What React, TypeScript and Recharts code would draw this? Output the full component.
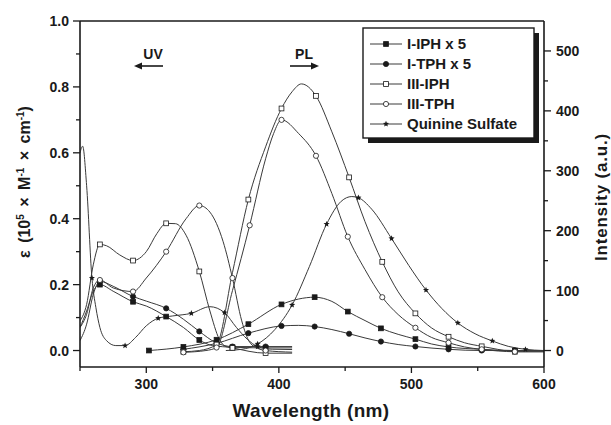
import React from "react";
import { LineChart, Line, XAxis, YAxis, ReferenceLine } from "recharts";

type Pt = [number, number];

// wavelength axis (nm)
const wavelengthTicks = [250, 300, 350, 400, 450, 500, 550, 600];
const wavelengthMajor = [300, 400, 500, 600];
// left axis: epsilon (10^5 M^-1 cm^-1)
const epsTicks = [0, 0.1, 0.2, 0.3, 0.4, 0.5, 0.6, 0.7, 0.8, 0.9, 1.0];
const epsMajor = [0, 0.2, 0.4, 0.6, 0.8, 1.0];
// right axis: PL intensity (a.u.)
const intensityTicks = [0, 50, 100, 150, 200, 250, 300, 350, 400, 450, 500];
const intensityMajor = [0, 100, 200, 300, 400, 500];

// absorption spectra (left axis)
const iIphAbs: Pt[] = [[250, 0.07], [255, 0.12], [260, 0.18], [265, 0.2], [275, 0.18], [290, 0.148], [300, 0.135], [315, 0.103], [328, 0.07], [340, 0.032], [350, 0.015], [365, 0.01], [390, 0.008], [410, 0.008]];
const iTphAbs: Pt[] = [[250, 0.03], [255, 0.08], [260, 0.17], [265, 0.21], [275, 0.195], [290, 0.164], [300, 0.15], [315, 0.128], [328, 0.095], [340, 0.058], [352, 0.025], [365, 0.012], [390, 0.012], [410, 0.012]];
const iiiIphAbs: Pt[] = [[250, 0.09], [255, 0.14], [260, 0.26], [265, 0.322], [270, 0.318], [280, 0.29], [290, 0.273], [300, 0.3], [308, 0.355], [315, 0.386], [322, 0.385], [330, 0.35], [340, 0.24], [348, 0.12], [355, 0.035], [360, 0.012], [365, 0.008], [390, -0.008], [410, -0.008]];
const iiiTphAbs: Pt[] = [[250, 0.07], [255, 0.11], [260, 0.19], [265, 0.214], [275, 0.19], [290, 0.179], [300, 0.22], [315, 0.3], [330, 0.4], [340, 0.44], [348, 0.42], [358, 0.33], [365, 0.22], [372, 0.09], [378, 0.025], [385, 0.005], [390, 0], [410, -0.005]];
const quinineAbs: Pt[] = [[250, 0.6], [252, 0.62], [255, 0.5], [259, 0.22], [262, 0.13], [265, 0.07], [270, 0.03], [277, 0.015], [284, 0.015], [292, 0.04], [300, 0.075], [309, 0.098], [320, 0.105], [334, 0.113], [348, 0.133], [359, 0.115], [368, 0.07], [376, 0.035], [384, 0.012], [395, 0.004], [410, 0.003]];

// photoluminescence spectra (right axis)
const iIphPl: Pt[] = [[302, 0], [328, 6], [353, 18], [377, 44], [402, 77], [415, 86], [427, 89], [440, 82], [452, 65], [465, 50], [477, 37], [490, 27], [503, 19], [515, 11], [528, 6], [553, 2], [578, 0], [600, 0]];
const iTphPl: Pt[] = [[328, 2], [353, 12], [377, 29], [402, 41], [415, 42], [427, 40], [440, 35], [453, 28], [465, 21], [477, 15], [490, 10], [503, 6.7], [528, 2], [553, 0], [578, 0], [600, 0]];
const iiiIphPl: Pt[] = [[328, -2], [340, 0], [353, 10], [365, 130], [377, 252], [390, 340], [402, 404], [410, 432], [417, 445], [428, 425], [440, 365], [453, 289], [465, 215], [478, 148], [490, 98], [503, 62], [515, 38], [528, 23], [540, 13], [553, 7], [565, 2], [578, -2], [600, -2]];
const iiiTphPl: Pt[] = [[328, -3], [345, 0], [353, 5], [365, 100], [378, 209], [390, 320], [396, 362], [402, 385], [415, 362], [428, 325], [440, 262], [452, 190], [465, 135], [478, 89], [490, 60], [503, 38], [515, 22], [528, 13], [540, 6], [553, 2], [578, -2], [600, -2]];
const quininePl: Pt[] = [[360, 0], [372, 2], [384, 11], [397, 35], [410, 76], [423, 140], [436, 211], [447, 249], [455, 257], [460, 255], [470, 236], [485, 187], [498, 142], [511, 101], [523, 70], [535, 46], [548, 28], [561, 16], [573, 7], [586, 2], [600, 0]];

// where the symbols sit on each curve
const absMarks = [265, 290, 315, 340, 365, 390];
const quinineAbsMarks = [259, 284, 309, 334, 359, 384];
const iIphPlMarks = [302, 328, 353, 377, 402, 427, 452, 477, 503, 528, 553, 578];
const iTphPlMarks = [328, 353, 377, 402, 427, 453, 477, 503, 528, 553, 578];
const iiiIphPlMarks = [328, 353, 377, 402, 428, 453, 478, 503, 528, 553, 578];
const iiiTphPlMarks = [328, 353, 378, 402, 428, 452, 478, 503, 528, 553, 578];
const quininePlMarks = [384, 410, 436, 460, 485, 511, 535, 561, 586];

const seriesNames = ["I-IPH x 5", "I-TPH x 5", "III-IPH", "III-TPH", "Quinine Sulfate"];
const seriesShapes = ["sq", "ci", "sqo", "cio", "star"];

const LINE = "#3a3a3a";
const INK = "#1a1a1a";
const FONT = "'Liberation Sans', Arial, sans-serif";

const toRows = (pts: Pt[], marks: number[]) =>
  pts.map(([x, y]) => ({ x, y, m: marks.includes(x) }));

function Marker({ shape, x, y }: { shape: string; x: number; y: number }) {
  if (shape === "sq" || shape === "sqo") {
    return (
      <rect x={x - 2.4} y={y - 2.4} width={4.8} height={4.8}
        fill={shape === "sq" ? INK : "#fff"} stroke={INK} strokeWidth={0.8} />
    );
  }
  if (shape === "ci" || shape === "cio") {
    return <circle cx={x} cy={y} r={2.6} fill={shape === "ci" ? INK : "#fff"} stroke={INK} strokeWidth={0.8} />;
  }
  const pts: string[] = [];
  for (let i = 0; i < 10; i++) {
    const r = i % 2 === 0 ? 3.2 : 1.4;
    const a = -Math.PI / 2 + (i * Math.PI) / 5;
    pts.push(`${x + r * Math.cos(a)},${y + r * Math.sin(a)}`);
  }
  return <polygon points={pts.join(" ")} fill={INK} />;
}

const dotFor = (shape: string) => (props: any) => {
  const { cx, cy, payload, index } = props;
  if (!payload?.m || cx == null || cy == null) return <g key={`n${index}`} />;
  return (
    <g key={`d${index}`}>
      <Marker shape={shape} x={cx} y={cy} />
    </g>
  );
};

const isIn = (list: number[], v: number) => list.some((m) => Math.abs(m - v) < 1e-6);

const LeftTick = (props: any) => {
  const { x, y, payload } = props;
  const major = isIn(epsMajor, payload.value);
  return (
    <g>
      <line x1={x} x2={x - (major ? 7 : 4)} y1={y} y2={y} stroke={INK} strokeWidth={1.3} />
      {major && (
        <text x={x - 11} y={y + 5} textAnchor="end" fontFamily={FONT} fontWeight="bold" fontSize={14} fill={INK}>
          {payload.value.toFixed(1)}
        </text>
      )}
    </g>
  );
};

const RightTick = (props: any) => {
  const { x, y, payload } = props;
  const major = isIn(intensityMajor, payload.value);
  return (
    <g>
      <line x1={x} x2={x + (major ? 7 : 4)} y1={y} y2={y} stroke={INK} strokeWidth={1.3} />
      {major && (
        <text x={x + 12} y={y + 5} textAnchor="start" fontFamily={FONT} fontWeight="bold" fontSize={14} fill={INK}>
          {payload.value}
        </text>
      )}
    </g>
  );
};

const BottomTick = (props: any) => {
  const { x, y, payload } = props;
  const major = isIn(wavelengthMajor, payload.value);
  return (
    <g>
      <line x1={x} x2={x} y1={y} y2={y + (major ? 6 : 4)} stroke={INK} strokeWidth={1.3} />
      {major && (
        <text x={x} y={y + 22} textAnchor="middle" fontFamily={FONT} fontWeight="bold" fontSize={14} fill={INK}>
          {payload.value}
        </text>
      )}
    </g>
  );
};

const absSeries = [
  { id: "iIphAbs", data: toRows(iIphAbs, absMarks), shape: "sq" },
  { id: "iTphAbs", data: toRows(iTphAbs, absMarks), shape: "ci" },
  { id: "iiiIphAbs", data: toRows(iiiIphAbs, absMarks), shape: "sqo" },
  { id: "iiiTphAbs", data: toRows(iiiTphAbs, absMarks), shape: "cio" },
  { id: "quinineAbs", data: toRows(quinineAbs, quinineAbsMarks), shape: "star" },
];

const plSeries = [
  { id: "iIphPl", data: toRows(iIphPl, iIphPlMarks), shape: "sq" },
  { id: "iTphPl", data: toRows(iTphPl, iTphPlMarks), shape: "ci" },
  { id: "iiiIphPl", data: toRows(iiiIphPl, iiiIphPlMarks), shape: "sqo" },
  { id: "iiiTphPl", data: toRows(iiiTphPl, iiiTphPlMarks), shape: "cio" },
  { id: "quininePl", data: toRows(quininePl, quininePlMarks), shape: "star" },
];

function Overlay() {
  return (
    <svg width={611} height={425} style={{ position: "absolute", left: 0, top: 0, pointerEvents: "none" }}>
      {/* legend with drop shadow */}
      <rect x={368} y={33} width={171} height={110} fill={INK} />
      <rect x={363} y={28} width={171} height={110} fill="#fff" stroke={INK} strokeWidth={1.4} />
      {seriesNames.map((name, i) => {
        const y = 44 + i * 20;
        return (
          <g key={name}>
            <line x1={370} x2={402} y1={y} y2={y} stroke={LINE} strokeWidth={1} />
            <Marker shape={seriesShapes[i]} x={386} y={y} />
            <text x={407} y={y + 5} fontFamily={FONT} fontWeight="bold" fontSize={15} fill={INK}>
              {name}
            </text>
          </g>
        );
      })}

      {/* UV / PL annotations */}
      <text x={153} y={59} textAnchor="middle" fontFamily={FONT} fontWeight="bold" fontSize={14} fill={INK}>UV</text>
      <line x1={140} x2={163} y1={66} y2={66} stroke={INK} strokeWidth={1.6} />
      <polygon points="134,66 142,62.5 142,69.5" fill={INK} />
      <text x={304} y={59} textAnchor="middle" fontFamily={FONT} fontWeight="bold" fontSize={14} fill={INK}>PL</text>
      <line x1={290} x2={313} y1={66} y2={66} stroke={INK} strokeWidth={1.6} />
      <polygon points="319,66 311,62.5 311,69.5" fill={INK} />

      {/* axis titles */}
      <text transform="translate(30,182) rotate(-90)" textAnchor="middle" fontFamily={FONT} fontWeight="bold"
        fontSize={16} fill={INK} wordSpacing={3}>
        ε (10<tspan dy={-6} fontSize={10}>5</tspan>
        <tspan dy={6}> × M</tspan>
        <tspan dy={-6} fontSize={10}>-1</tspan>
        <tspan dy={6}> × cm</tspan>
        <tspan dy={-6} fontSize={10}>-1</tspan>
        <tspan dy={6}>)</tspan>
      </text>
      <text transform="translate(607,197) rotate(-90)" textAnchor="middle" fontFamily={FONT} fontWeight="bold"
        fontSize={17} fill={INK} letterSpacing={0.8}>
        Intensity (a.u.)
      </text>
      <text x={311} y={417} textAnchor="middle" fontFamily={FONT} fontWeight="bold" fontSize={19} fill={INK}
        letterSpacing={0.3}>
        Wavelength (nm)
      </text>
    </svg>
  );
}

export default function App() {
  return (
    <div style={{ position: "absolute", left: 0, top: 0, width: 611, height: 425, background: "#fff" }}>
      <LineChart width={611} height={425} margin={{ top: 21, right: 7, bottom: 28, left: 20 }}>
        <XAxis dataKey="x" type="number" domain={[250, 600]} ticks={wavelengthTicks} interval={0}
          allowDataOverflow height={30} tickSize={0} tickMargin={0} tickLine={false}
          axisLine={{ stroke: INK, strokeWidth: 1.6 }} tick={<BottomTick />} />
        <YAxis yAxisId="left" type="number" domain={[-0.05, 1.0]} ticks={epsTicks} interval={0}
          allowDataOverflow width={60} tickSize={0} tickMargin={0} tickLine={false}
          axisLine={{ stroke: INK, strokeWidth: 1.6 }} tick={<LeftTick />} />
        <YAxis yAxisId="right" orientation="right" type="number" domain={[-27.5, 550]} ticks={intensityTicks}
          interval={0} allowDataOverflow width={60} tickSize={0} tickMargin={0} tickLine={false}
          axisLine={{ stroke: INK, strokeWidth: 1.6 }} tick={<RightTick />} />
        <ReferenceLine yAxisId="left" y={1.0} stroke={INK} strokeWidth={1.6} ifOverflow="visible" />
        {absSeries.map((s) => (
          <Line key={s.id} yAxisId="left" data={s.data} dataKey="y" type="monotone" stroke={LINE}
            strokeWidth={1} dot={dotFor(s.shape)} activeDot={false} isAnimationActive={false} />
        ))}
        {plSeries.map((s) => (
          <Line key={s.id} yAxisId="right" data={s.data} dataKey="y" type="monotone" stroke={LINE}
            strokeWidth={1} dot={dotFor(s.shape)} activeDot={false} isAnimationActive={false} />
        ))}
      </LineChart>
      <Overlay />
    </div>
  );
}
